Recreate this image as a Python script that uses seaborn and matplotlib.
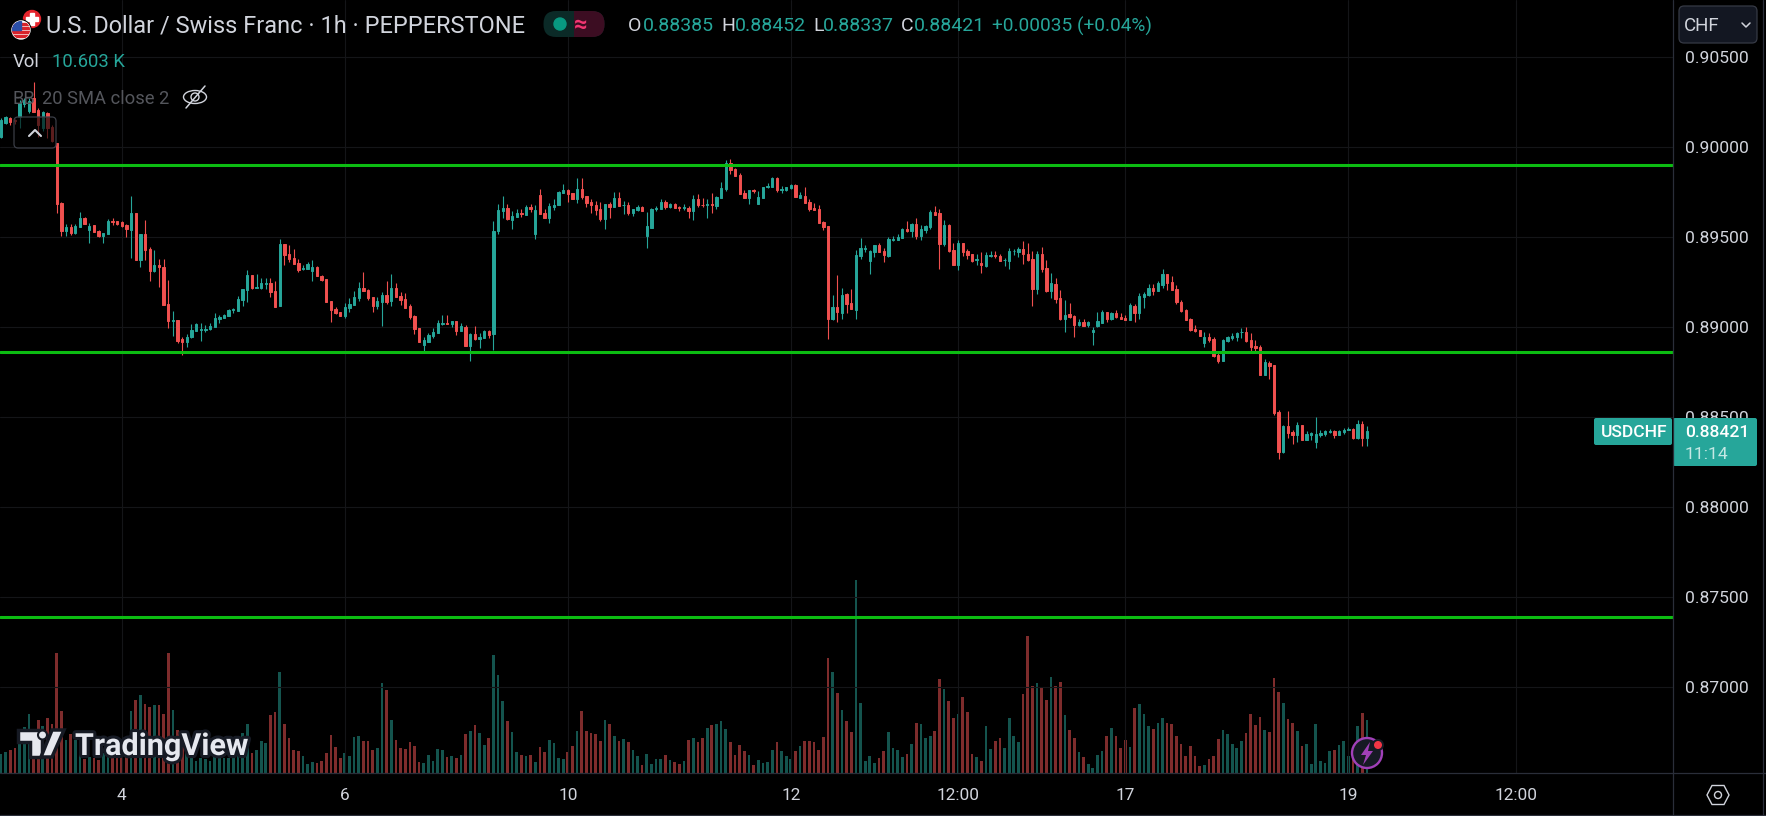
import numpy as np
import pandas as pd
import seaborn as sns
import matplotlib
matplotlib.use("Agg")
import matplotlib.pyplot as plt
from matplotlib.patches import Circle, Ellipse, FancyBboxPatch, Polygon, Rectangle
import matplotlib.patheffects as pe

# Prices in 1e-5 CHF (hourly candles)
opens = [
90057,90135,90159,90150,90168,90239,90200,90270,90205,90103,
90187,90109,90020,89687,89533,89555,89520,89557,89605,89541,
89565,89531,89507,89518,89589,89587,89581,89566,89541,89633,
89372,89516,89433,89311,89344,89335,89128,89033,89039,88933,
88917,88942,88979,88983,88985,88987,89000,89042,89052,89061,
89094,89090,89150,89205,89289,89217,89218,89239,89246,89200,
89118,89461,89405,89383,89357,89322,89322,89311,89333,89281,
89266,89144,89100,89083,89061,89107,89122,89163,89215,89205,
89167,89117,89139,89178,89144,89217,89172,89156,89117,89061,
88994,88900,88918,88948,88967,89017,89020,89017,89031,88976,
89000,88894,88959,88933,88939,88978,88961,89533,89644,89661,
89594,89611,89631,89622,89667,89517,89733,89633,89606,89667,
89678,89744,89761,89744,89711,89767,89728,89694,89678,89656,
89600,89683,89667,89717,89676,89678,89633,89650,89667,89506,
89550,89657,89656,89694,89667,89683,89665,89661,89661,89644,
89711,89680,89680,89683,89674,89714,89764,89909,89877,89844,
89744,89716,89761,89683,89716,89777,89777,89827,89762,89761,
89772,89788,89716,89727,89694,89661,89655,89583,89561,89044,
89111,89077,89183,89133,89094,89394,89436,89366,89416,89455,
89422,89394,89486,89483,89494,89544,89533,89572,89505,89538,
89555,89638,89633,89461,89566,89427,89344,89466,89422,89405,
89374,89355,89338,89396,89399,89394,89370,89366,89420,89416,
89433,89405,89377,89211,89405,89327,89200,89238,89161,89045,
89072,89061,89011,89028,89011,88972,89006,89022,89083,89045,
89078,89056,89050,89039,89117,89078,89167,89178,89217,89200,
89234,89295,89250,89211,89139,89095,89045,88989,88983,88911,
88945,88933,88845,88811,88922,88939,88945,88971,88972,88928,
88895,88889,88733,88800,88789,88528,88306,88450,88417,88400,
88456,88372,88400,88361,88400,88406,88417,88422,88400,88417,
88430,88433,88383,88461,88385]

highs = [
90160,90170,90165,90155,90260,90270,90275,90361,90215,90200,
90195,90125,90020,89692,89570,89572,89572,89639,89611,89576,
89565,89537,89520,89598,89605,89589,89587,89572,89728,89633,
89516,89594,89444,89428,89378,89378,89261,89089,89039,88942,
88959,89016,89020,89022,89009,89020,89076,89066,89070,89098,
89103,89172,89212,89316,89289,89294,89274,89274,89272,89253,
89489,89461,89455,89433,89378,89344,89361,89372,89337,89287,
89266,89144,89113,89083,89131,89159,89200,89248,89306,89211,
89167,89168,89193,89256,89294,89243,89193,89187,89128,89067,
88994,88944,88968,88994,89037,89067,89067,89031,89031,89022,
89011,88967,89006,88965,88983,88983,89589,89683,89728,89683,
89644,89656,89656,89678,89683,89678,89767,89656,89689,89711,
89756,89794,89767,89744,89828,89828,89728,89711,89700,89694,
89683,89694,89750,89750,89700,89694,89656,89678,89672,89639,
89661,89672,89711,89706,89689,89689,89672,89683,89672,89733,
89739,89717,89711,89746,89727,89805,89927,89933,89883,89855,
89761,89761,89766,89755,89777,89800,89833,89833,89783,89777,
89794,89794,89750,89777,89709,89688,89677,89588,89561,89177,
89288,89216,89188,89211,89427,89494,89455,89427,89455,89466,
89438,89500,89505,89516,89550,89588,89577,89605,89566,89566,
89649,89672,89655,89594,89572,89466,89483,89466,89433,89405,
89405,89416,89416,89422,89422,89405,89381,89438,89433,89444,
89477,89466,89420,89420,89444,89372,89300,89272,89205,89150,
89133,89067,89045,89045,89033,89000,89083,89095,89083,89083,
89095,89078,89067,89133,89128,89189,89195,89239,89239,89256,
89322,89295,89284,89234,89150,89100,89050,89011,88983,88972,
88967,88945,88867,88933,88950,88967,88972,88995,89000,88967,
88928,88900,88822,88811,88789,88539,88456,88533,88428,88472,
88456,88422,88417,88500,88428,88428,88433,88428,88428,88439,
88445,88439,88483,88478,88452]

lows = [
90050,90130,90122,90130,90103,90225,90190,90196,90057,90090,
90050,90030,89631,89505,89505,89511,89515,89555,89570,89468,
89528,89500,89468,89515,89568,89568,89554,89502,89385,89372,
89335,89372,89255,89307,89224,89122,88994,88952,88913,88844,
88889,88940,88979,88922,88974,88985,89000,89022,89052,89061,
89080,89090,89118,89141,89209,89215,89209,89211,89168,89111,
89118,89344,89363,89350,89307,89316,89322,89255,89281,89257,
89141,89028,89072,89061,89052,89085,89122,89146,89200,89150,
89085,89100,89007,89130,89118,89167,89122,89107,89046,88963,
88918,88865,88918,88941,88967,89011,89017,89002,88956,88976,
88894,88811,88928,88883,88939,88939,88872,89517,89606,89594,
89544,89611,89611,89622,89639,89489,89628,89606,89578,89650,
89678,89744,89694,89711,89689,89711,89667,89633,89622,89589,
89544,89606,89667,89672,89628,89622,89617,89644,89644,89439,
89550,89644,89656,89656,89661,89661,89644,89650,89606,89594,
89667,89668,89605,89633,89655,89714,89757,89850,89838,89739,
89716,89683,89744,89683,89716,89772,89777,89750,89744,89755,
89766,89722,89716,89688,89644,89650,89577,89538,88933,89038,
89027,89044,89077,89100,89044,89377,89416,89294,89388,89416,
89361,89388,89477,89483,89494,89527,89500,89488,89483,89522,
89544,89622,89322,89450,89416,89344,89316,89394,89377,89361,
89344,89300,89333,89388,89383,89366,89338,89322,89400,89388,
89350,89366,89116,89183,89305,89194,89161,89133,89038,88972,
89050,88945,89006,89006,89000,88900,89000,89022,89028,89039,
89050,89045,89039,89039,89028,89045,89106,89172,89178,89200,
89217,89206,89206,89128,89083,89039,88978,88972,88950,88889,
88917,88833,88800,88811,88917,88928,88922,88939,88917,88867,
88861,88733,88733,88711,88511,88267,88300,88383,88350,88361,
88372,88372,88372,88328,88389,88395,88411,88383,88400,88406,
88428,88378,88378,88339,88337]

closes = [
90150,90165,90140,90147,90242,90261,90255,90196,90122,90192,
90104,90035,89683,89535,89555,89524,89561,89605,89572,89561,
89528,89505,89520,89589,89581,89572,89563,89546,89633,89372,
89516,89428,89311,89344,89335,89122,89033,89037,88922,88918,
88944,88983,89016,88987,88987,89003,89048,89055,89066,89094,
89098,89155,89209,89289,89215,89220,89246,89242,89194,89111,
89461,89402,89378,89350,89316,89326,89350,89331,89283,89261,
89141,89094,89078,89061,89109,89128,89167,89217,89200,89163,
89117,89143,89178,89141,89217,89167,89150,89107,89057,88989,
88918,88928,88956,88974,89022,89020,89017,89031,88978,89006,
88894,88959,88933,88944,88978,88956,89533,89650,89661,89598,
89617,89633,89628,89667,89656,89650,89628,89606,89672,89678,
89750,89761,89739,89711,89767,89722,89689,89678,89650,89600,
89683,89667,89717,89672,89678,89633,89656,89667,89644,89561,
89656,89661,89694,89667,89683,89661,89661,89665,89644,89711,
89678,89678,89682,89679,89722,89772,89909,89872,89838,89739,
89716,89761,89757,89722,89777,89781,89827,89761,89765,89777,
89788,89722,89733,89688,89655,89650,89577,89555,89044,89111,
89083,89177,89127,89100,89400,89438,89438,89422,89455,89416,
89400,89488,89489,89500,89544,89533,89572,89505,89544,89561,
89638,89622,89461,89566,89422,89344,89466,89416,89400,89366,
89376,89344,89400,89399,89396,89366,89372,89422,89424,89433,
89405,89372,89211,89405,89322,89200,89244,89155,89044,89067,
89056,89011,89028,89006,89028,88983,89033,89083,89045,89078,
89056,89045,89039,89122,89078,89172,89183,89217,89200,89245,
89295,89245,89206,89139,89089,89039,88983,88976,88950,88945,
88928,88839,88811,88928,88945,88950,88967,88973,88922,88889,
88883,88733,88806,88783,88522,88306,88450,88411,88400,88456,
88372,88406,88411,88406,88411,88422,88420,88400,88422,88428,
88432,88383,88461,88383,88421]

# Volume in thousands
volumes = [
3.9,4.3,4.7,5.1,6.7,9.3,11.9,8.7,10.7,9.5,
11.0,9.9,24.0,12.5,6.7,7.9,6.7,3.7,2.8,3.3,
3.1,2.7,4.0,4.0,3.6,3.5,3.5,3.7,12.5,14.7,
15.7,13.9,13.3,13.7,13.7,11.9,24.0,12.7,8.7,8.0,
4.7,3.7,2.5,3.0,2.9,2.5,4.3,3.3,3.1,3.1,
4.0,3.7,8.0,9.9,4.0,4.7,6.5,6.1,11.7,12.3,
20.3,9.9,7.1,4.7,4.4,3.5,1.9,2.3,2.1,2.5,
4.1,7.7,5.3,3.1,4.1,3.5,7.3,7.5,6.5,6.5,
4.7,5.1,18.1,16.7,10.7,6.7,5.1,4.9,6.3,5.5,
2.3,2.1,3.7,2.5,4.9,4.7,3.3,3.5,3.1,3.7,
7.9,8.5,9.7,8.1,5.7,7.1,23.7,19.7,14.5,10.5,
8.3,4.3,3.7,3.5,3.7,2.3,5.3,4.3,6.7,6.1,
3.1,2.9,4.3,5.5,8.5,12.5,8.5,8.1,7.9,6.5,
10.7,9.9,7.5,6.5,6.9,6.3,4.7,3.5,1.7,3.9,
1.9,2.9,2.9,3.7,2.7,2.3,1.9,2.5,6.7,7.1,
6.3,7.1,9.1,9.7,9.9,10.5,8.9,6.3,3.7,5.7,
4.5,3.7,1.7,2.7,2.1,2.3,4.7,6.3,4.5,3.5,
2.9,4.5,5.5,6.5,6.5,6.3,4.7,7.3,23.1,20.3,
16.1,12.7,10.5,8.3,38.7,14.1,2.5,3.5,2.1,3.1,
4.5,8.3,5.1,4.7,3.3,3.9,5.9,10.1,9.9,7.1,
7.5,8.5,18.9,16.9,14.5,11.1,11.9,15.3,12.3,3.9,
3.3,2.5,9.5,4.9,6.5,7.1,5.1,11.1,7.5,6.3,
15.9,27.5,17.5,18.1,17.1,14.7,19.3,17.5,18.3,11.7,
8.7,7.1,4.3,3.3,1.9,1.1,3.7,4.5,7.5,9.1,
7.5,5.1,6.7,5.3,13.1,13.9,11.9,9.5,8.9,10.1,
11.1,10.1,9.9,7.5,5.9,3.5,5.5,3.5,1.5,1.7,
2.9,3.5,6.9,8.7,7.9,5.9,5.1,6.5,8.1,11.9,
9.7,11.3,8.7,8.3,19.1,16.3,14.1,10.9,10.1,8.5,
5.5,5.9,1.9,9.9,2.5,2.1,4.5,4.7,5.7,6.5,
3.5,3.9,9.5,12.1,10.603]

support_levels = [0.8990, 0.88861, 0.87389]
price_ticks = [0.905, 0.900, 0.895, 0.890, 0.885, 0.880, 0.875, 0.870]
time_tick_positions = [26, 74, 122, 170, 206, 242, 290, 326]
time_tick_labels = ["4", "6", "10", "12", "12:00", "17", "19", "12:00"]

W, H = 1766, 816
RIGHT, BOTTOM = 1673, 773
CANDLE_PX = 4.646
UP, DOWN = "#26a69a", "#f0504f"
VOL_UP, VOL_DOWN = "#14544e", "#7e2c2c"
TEXT = "#d1d4dc"
GRID = "#141518"
AXISLINE = "#2a2e39"
LEVEL = "#0cbc12"
FONT = "Roboto"

n = min(map(len, (opens, highs, lows, closes, volumes)))
df = pd.DataFrame({
    "i": np.arange(n),
    "open": np.array(opens[:n]) / 1e5, "high": np.array(highs[:n]) / 1e5,
    "low": np.array(lows[:n]) / 1e5, "close": np.array(closes[:n]) / 1e5,
    "volume": volumes[:n],
})
df["dir"] = np.where(df["close"] >= df["open"], "up", "down")

sns.set_theme(style="dark", rc={
    "figure.facecolor": "black", "axes.facecolor": "black",
    "savefig.facecolor": "black", "axes.edgecolor": "black",
})
plt.rcParams["font.family"] = [FONT, "DejaVu Sans"]

fig = plt.figure(figsize=(W / 100, H / 100), dpi=100)
pos = [0, (H - BOTTOM) / H, RIGHT / W, BOTTOM / H]
xlim = (-1 / CANDLE_PX, (RIGHT - 1) / CANDLE_PX)

# Volume pane
ax_vol = fig.add_axes(pos, zorder=1)
sns.barplot(data=df, x="i", y="volume", hue="dir", hue_order=["up", "down"],
            palette={"up": VOL_UP, "down": VOL_DOWN}, native_scale=True, dodge=False,
            width=0.58, saturation=1, errorbar=None, legend=False, linewidth=0, ax=ax_vol)
ax_vol.set_xlim(*xlim)
ax_vol.set_ylim(0, BOTTOM / 5.0)
ax_vol.axis("off")

# Price pane
ax = fig.add_axes(pos, zorder=2)
ax.patch.set_alpha(0)
ax.set_xlim(*xlim)
ax.set_ylim(0.9 - (BOTTOM - 147) / 18000, 0.9 + 147 / 18000)
ax.yaxis.tick_right()
ax.set_yticks(price_ticks)
ax.set_yticklabels([f"{p:.5f}" for p in price_ticks], color=TEXT, fontsize=12.6, family=FONT)
ax.set_xticks(time_tick_positions)
ax.set_xticklabels(time_tick_labels, color=TEXT, fontsize=12.4, family=FONT)
ax.tick_params(axis="y", length=0, pad=8.6)
ax.tick_params(axis="x", length=0, pad=11)
ax.grid(True, color=GRID, linewidth=0.8, zorder=0)
ax.set_axisbelow(True)
for s in ax.spines.values():
    s.set_visible(False)

colors = np.where(df["dir"] == "up", UP, DOWN)
ax.vlines(df["i"], df["low"], df["high"], colors=colors, linewidth=0.8, zorder=3)
ax.bar(df["i"], (df["close"] - df["open"]).abs(), bottom=df[["open", "close"]].min(axis=1),
       width=0.5, color=colors, edgecolor=colors, linewidth=0.7, zorder=3)
for lvl in support_levels:
    ax.axhline(lvl, color=LEVEL, linewidth=2.2, zorder=4)

# Overlay in pixel coordinates for the interface furniture
ov = fig.add_axes([0, 0, 1, 1], zorder=10)
ov.set_xlim(0, W)
ov.set_ylim(H, 0)
ov.axis("off")
ov.patch.set_alpha(0)


def txt(x, y, s, color=TEXT, size=12.5, ha="left", **kw):
    return ov.text(x, y, s, color=color, fontsize=size, ha=ha, va="center_baseline", family=FONT, **kw)


def rbox(x0, y0, x1, y1, r, **kw):
    ov.add_patch(FancyBboxPatch((x0 + r, y0 + r), x1 - x0 - 2 * r, y1 - y0 - 2 * r,
                                boxstyle=f"round,pad={r},rounding_size={r}", **kw))


# Pane borders
ov.plot([RIGHT, RIGHT], [0, H], color=AXISLINE, lw=0.9)
ov.plot([0, W], [BOTTOM, BOTTOM], color=AXISLINE, lw=0.9)
ov.plot([0, W], [H - 1, H - 1], color=AXISLINE, lw=0.9)
ov.plot([W - 3, W - 3], [0, H], color=AXISLINE, lw=0.9)

# Flags
ov.add_patch(Circle((32, 19), 8.5, color="#e5242c"))
ov.add_patch(Rectangle((30, 13), 4, 12, color="white"))
ov.add_patch(Rectangle((26, 17), 12, 4, color="white"))
ov.add_patch(Circle((21, 30), 10, color="black"))
us = Circle((21, 30), 9, color="white")
ov.add_patch(us)
for yy in (23, 27, 31, 35):
    st = Rectangle((11, yy), 20, 2, color="#d8232a")
    ov.add_patch(st)
    st.set_clip_path(us)
cant = Rectangle((12, 21), 9, 9, color="#2b4fa8")
ov.add_patch(cant)
cant.set_clip_path(us)

# Header
txt(46, 24, "U.S. Dollar / Swiss Franc · 1h · PEPPERSTONE", size=16.9)
pill = FancyBboxPatch((556, 23.5), 36, 1, boxstyle="round,pad=12.5,rounding_size=12.5", color="#0b2a27", lw=0)
ov.add_patch(pill)
rt = Rectangle((574, 10), 32, 29, color="#3c0d22", lw=0)
ov.add_patch(rt)
rt.set_clip_path(pill)
ov.add_patch(Circle((560, 24), 6, color="#089981"))
txt(581, 23, "≈", color="#f23672", size=17, ha="center", weight="bold")
for xl, lab, xv, val in [(628, "O", 643, "0.88385"), (721, "H", 735, "0.88452"),
                         (813, "L", 823, "0.88337"), (901, "C", 914, "0.88421")]:
    txt(xl, 24, lab, size=14)
    txt(xv, 24, val, color=UP, size=14)
txt(992, 24, "+0.00035 (+0.04%)", color=UP, size=13.7)
txt(13, 60, "Vol", size=13.3)
txt(52, 60, "10.603 K", color=UP, size=13.3)
txt(13, 97, "BB", color="#54565c", size=13.2)
txt(42, 97, "20 SMA close 2", color="#54565c", size=13.2)

# Hidden-indicator eye
ov.add_patch(Ellipse((195, 97), 23, 13, fill=False, ec=TEXT, lw=1.0))
ov.add_patch(Circle((195, 97), 4, fill=False, ec=TEXT, lw=1.0))
ov.plot([186, 205], [108, 86], color=TEXT, lw=1.1)

# Collapse button
rbox(14, 117, 56, 148, 4, facecolor=(0, 0, 0, 0.62), edgecolor="#3a3d46", lw=0.9)
ov.plot([29, 35, 41], [136, 130, 136], color=TEXT, lw=1.5)

# Currency selector
rbox(1679, 6, 1757, 43, 5, facecolor="#131722", edgecolor="#363a45", lw=0.9)
txt(1684, 24, "CHF", size=13.5)
ov.plot([1742, 1746, 1750], [23, 27, 23], color=TEXT, lw=1.1)

# Last price labels
rbox(1594, 418, 1672, 445, 2, facecolor=UP, edgecolor="none")
txt(1601, 431, "USDCHF", color="white", size=12.6, weight="medium")
rbox(1673, 418, 1757, 466, 2, facecolor=UP, edgecolor="none")
txt(1685, 431, "0.88421", color="white", size=12.6, weight="medium")
txt(1685, 453, "11:14", color="#c4e8e4", size=12.6)

# Watermark logo
halo = [pe.withStroke(linewidth=4.5, foreground="#161a24")]
for pts in ([(18, 730), (42, 730), (42, 757), (30, 757), (30, 742), (18, 742)],
            [(52, 730), (64, 730), (52, 757), (41, 757)]):
    ov.add_patch(Polygon(pts, closed=True, fc="#e6e8ef", ec="#161a24", lw=2.5))
ov.add_patch(Circle((42.5, 735), 4.5, fc="#e6e8ef", ec="#161a24", lw=1.5))
txt(75, 743, "TradingView", color="#e6e8ef", size=22, weight="bold", path_effects=halo)

# Alert bolt button
ov.add_patch(Circle((1367, 753), 15, fc="#161a24", ec="#a040b8", lw=1.7))
ov.add_patch(Polygon([(1370, 742), (1361, 755), (1366, 755), (1363, 765), (1373, 751), (1368, 751)],
                     closed=True, fc="#a040b8", lw=0))
ov.add_patch(Circle((1378, 745), 6, fc="#161a24", lw=0))
ov.add_patch(Circle((1378, 745), 4, fc="#f23645", lw=0))

# Settings hexagon
ov.add_patch(Polygon([(1707, 795), (1712, 785.5), (1724, 785.5), (1729, 795), (1724, 804.5), (1712, 804.5)],
                     closed=True, fill=False, ec=TEXT, lw=1.0))
ov.add_patch(Circle((1718, 795), 3.5, fill=False, ec=TEXT, lw=1.0))

fig.savefig("out.png", dpi=100, facecolor="black")
